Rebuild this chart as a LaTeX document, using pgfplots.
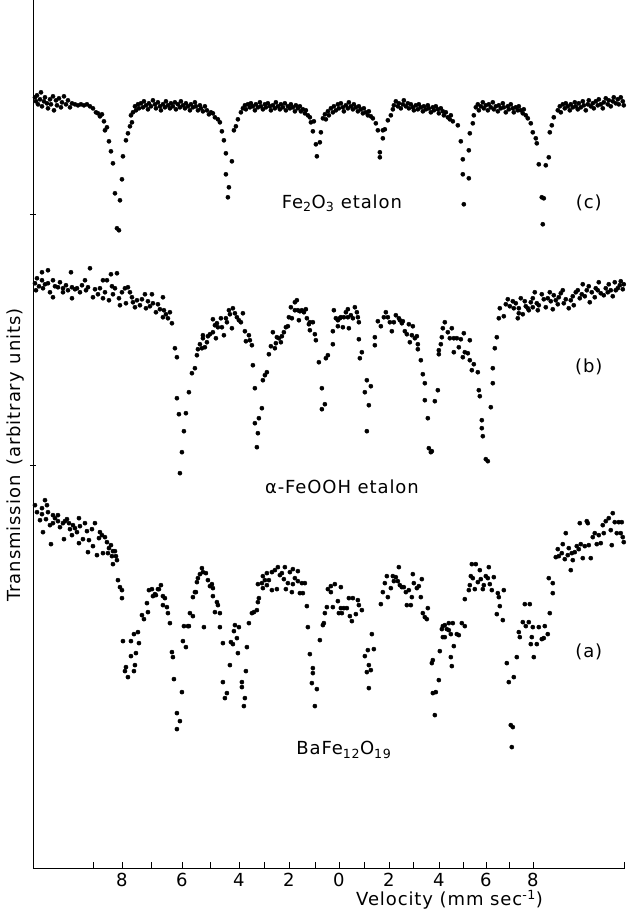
\documentclass[border=0pt]{standalone}
\usepackage{fontspec}
\setmainfont{DejaVu Sans}[LetterSpace=5]
\usepackage{pgfplots}
\pgfplotsset{compat=1.18}
\begin{document}
\begin{tikzpicture}
\begin{axis}[
  at={(0,0)}, anchor=south west,
  scale only axis, width=592bp, height=868bp,
  xmin=33, xmax=625, ymin=0, ymax=868, y dir=reverse,
  axis x line*=bottom, axis y line*=left,
  axis line style={-, line width=0.7pt},
  clip=false,
  xtick={93,122,151,182,210,239,264,289,315,339,364,389,413,439,463,486,509,533,625},
  xticklabels={,8,,6,,4,,2,,0,,2,,4,,6,,8,},
  xtick align=inside,
  ytick={214,465}, yticklabels={,}, ytick align=center,
  major tick length=6bp,
  tick style={black, line width=0.6pt},
  /pgf/number format/assume math mode=true,
  every tick label/.append style={font=\fontsize{18bp}{20bp}\selectfont},
  xticklabel style={anchor=north, yshift=-2bp},
  xlabel={Velocity (mm sec\textsuperscript{-1})},
  xlabel style={font=\fontsize{18bp}{20bp}\selectfont, at={(ticklabel cs:0.704)}, anchor=north, yshift=4bp},
  ylabel={Transmission\hspace{10bp}(arbitrary\hspace{8bp}units)},
  ylabel style={font=\fontsize{18bp}{20bp}\selectfont, at={(axis description cs:-0.03,0.476)}, anchor=center},
]
% (c) Fe2O3 etalon
\addplot[only marks, mark=*, mark size=2.1bp, black] coordinates {
(35,97)(36,101)(37,95)(38,104)(40,99)(41,92)(42,106)(44,101)(45,97)(47,103)(48,108)(50,99)(51,104)(53,96)(54,110)(56,100)(57,105)(59,98)(61,107)(62,102)(64,96)(66,104)(68,100)(70,107)(72,103)(75,104)(78,105)(81,104)(84,105)(87,104)(90,106)(93,108)(96,112)
(98,113)(100,116)(102,114)(104,121)(105,130)(107,127)(109,141)(111,151)(113,163)(115,193)(117,228)(119,230)(120,200)(122,179)(123,156)(126,140)(128,133)(130,126)(132,122)(131,115)
(133,112)(135,106)(136,110)(138,104)(139,108)(141,103)(143,107)(144,101)(146,105)(148,109)(149,103)(151,106)(153,100)(155,104)(156,108)(158,102)(160,106)(161,110)(163,104)(165,107)(166,101)(168,105)(170,108)(171,103)(173,106)(175,102)(176,109)(178,104)(180,107)(181,101)(183,105)(185,108)(186,103)(188,106)(190,110)(191,104)(193,107)(195,102)(196,106)(198,110)(200,105)(201,108)(203,111)(205,106)(207,110)(209,114)(211,112)
(213,113)(215,117)(218,119)(220,122)(222,131)(224,140)(226,153)(226,174)(228,197)(229,187)(232,161)(234,130)(236,126)(238,119)(241,112)
(243,108)(245,105)(246,109)(248,104)(250,107)(251,103)(253,106)(255,110)(256,104)(258,107)(260,102)(261,106)(263,109)(265,104)(266,107)(268,103)(270,106)(271,110)(273,105)(275,108)(276,102)(278,106)(280,109)(281,104)(283,107)(285,103)(286,110)(288,106)(290,108)(291,104)(293,107)(295,111)(296,105)(298,108)(300,106)(301,111)(303,109)(305,113)(306,110)(308,115)(310,117)(311,122)
(313,131)(314,121)(316,144)(317,156)(320,142)(321,132)(323,118)
(325,114)(326,119)(328,111)(329,115)(331,108)(333,112)(334,106)(336,110)(338,104)(339,108)(341,103)(343,107)(344,111)(346,105)(348,108)(349,102)(351,106)(353,109)(354,104)(356,107)(358,111)(359,106)(361,109)(363,113)(364,108)(366,112)(368,115)(369,111)(371,116)
(373,118)(376,123)(378,130)(380,152)(380,157)(383,130)(383,138)(385,129)(388,120)(391,115)
(393,109)(394,105)(396,101)(398,106)(399,103)(401,108)(403,104)(404,100)(406,106)(408,103)(409,108)(411,104)(413,107)(414,110)(416,105)(418,109)(419,104)(421,107)(423,111)(424,106)(426,109)(428,105)(429,108)(431,112)(433,107)(434,110)(436,106)(438,109)(439,113)(441,108)(443,111)(444,115)(446,112)(448,117)(450,119)(451,115)
(453,121)(458,125)(461,141)(463,159)(463,174)(464,204)(469,150)(469,178)(470,133)(473,123)(474,115)
(476,107)(478,104)(479,110)(481,106)(483,102)(484,108)(486,105)(488,110)(489,104)(491,107)(493,102)(494,109)(496,106)(498,111)(499,105)(501,108)(503,103)(504,107)(506,112)(508,106)(509,109)(511,104)(513,108)(514,112)(516,107)(518,110)(519,106)(521,110)(523,113)(524,109)(526,115)
(528,118)(531,123)(533,132)(536,138)(537,143)(539,164)(542,197)(543,224)(544,198)(546,165)(549,157)(550,132)(552,125)(554,117)
(558,110)(560,106)(561,112)(563,104)(565,108)(566,103)(568,106)(570,110)(571,104)(573,107)(575,102)(576,106)(578,109)(579,103)(581,107)(583,101)(584,105)(586,110)(588,104)(589,100)(591,106)(593,103)(594,108)(596,101)(598,105)(599,99)(601,104)(603,108)(604,102)(606,98)(608,104)(609,100)(611,106)(613,101)(614,97)(616,103)(618,99)(619,104)(621,97)(623,101)(624,105)
};
% (b) alpha-FeOOH etalon
\addplot[only marks, mark=*, mark size=2.1bp, black] coordinates {
(35,283)(36,290)(37,278)(39,286)(42,272)(42,280)(43,288)(45,284)(48,270)(48,283)(50,292)(53,280)(53,297)(55,286)(58,287)(60,282)(63,288)(63,292)(66,285)(68,290)(71,272)(72,287)(72,298)(75,289)(77,288)(80,292)(82,285)(85,280)(86,290)(88,287)(90,268)(93,297)(95,289)(98,294)(100,288)(103,280)(103,298)(105,292)(107,280)(109,300)(111,274)(112,286)(113,294)(115,288)(117,273)(119,298)(120,305)(122,292)(125,288)(126,303)(128,287)(130,292)(132,297)(133,302)(135,307)(137,300)(140,305)(142,299)(145,294)(146,308)(148,301)(150,306)(152,294)(153,303)(156,312)(158,304)(160,309)(163,297)(163,317)(164,310)(166,314)(168,318)(170,312)(172,323)
(175,348)(177,357)(177,398)(179,414)(180,473)(182,452)(184,431)(186,413)(189,392)(192,373)(195,368)(197,355)(198,349)(200,344)(202,348)(203,338)(203,335)(205,347)(207,342)(208,336)(210,334)(213,332)(213,319)(215,325)(216,338)(217,323)(218,327)(221,318)(222,327)(224,335)(226,318)(227,322)(229,310)(230,314)(232,328)(233,308)(235,313)(237,317)(239,320)(241,322)(243,313)(245,331)(246,341)(249,335)(250,340)(252,345)
(253,365)(255,388)(255,423)(257,447)(258,433)(259,418)(262,408)(263,380)(265,375)(267,372)(269,354)(271,346)(273,332)(275,348)(276,343)(277,337)(279,338)(281,342)(282,336)(284,332)(286,327)(288,326)(289,317)(291,307)(292,318)(295,302)(295,310)(297,300)(298,310)(299,320)(300,311)(302,310)(304,312)(306,309)(307,318)(309,324)(310,322)(310,330)(313,322)(315,334)(316,340)
(319,362)(322,388)(322,409)(325,404)(326,358)(328,355)
(333,344)(333,331)(334,310)(336,318)(338,326)(338,320)(340,318)(341,317)(343,327)(344,317)(346,312)(348,309)(348,317)(349,328)(351,315)(353,318)(355,307)(357,312)(358,317)(359,322)(359,339)(360,358)(362,352)
(365,392)(367,380)(367,431)(369,405)(371,386)
(375,345)(375,337)(378,321)(381,326)(384,317)(386,312)(388,317)(390,322)(392,331)(394,322)(396,315)(399,318)(400,320)(402,323)(403,321)(405,331)(407,334)(409,324)(410,342)(412,335)(413,326)(415,338)(417,336)(418,344)(418,349)(421,360)
(423,374)(425,383)(425,400)(428,418)(429,448)(431,452)(432,451)(435,401)(438,390)
(439,354)(439,350)(441,344)(442,337)(443,328)(445,322)(448,332)(450,338)(452,328)(454,352)(454,338)(457,338)(459,347)(461,339)(463,357)(464,333)(465,352)(468,353)(470,340)(470,360)(472,370)(474,364)(478,372)
(479,390)(480,396)(482,420)(482,428)(483,436)(486,459)(488,461)(491,407)(493,383)(493,368)(495,348)(497,337)
(499,318)(500,308)(504,316)(506,304)(508,299)(510,306)(513,301)(514,308)(516,303)(518,318)(519,313)(519,308)(521,298)(523,314)(525,301)(526,306)(528,308)(529,310)(531,302)(533,298)(533,307)(535,292)(537,303)(538,310)(539,305)(542,294)(544,299)(546,307)(548,298)(550,292)(551,301)(553,309)(554,295)(556,300)(558,304)(559,297)(561,293)(563,290)(564,303)(566,299)(569,308)(571,300)(573,296)(574,305)(576,292)(578,290)(580,298)(582,294)(583,284)(585,296)(587,290)(589,286)(590,302)(592,292)(595,297)(596,288)(598,290)(599,282)(601,293)(604,295)(606,288)(608,292)(609,284)(611,290)(613,296)(615,282)(616,290)(618,288)(620,285)(621,281)(623,289)(624,284)
};
% (a) BaFe12O19
\addplot[only marks, mark=*, mark size=2.1bp, black] coordinates {
(35,505)(37,512)(40,520)(42,508)(42,514)(43,532)(45,500)(46,519)(47,505)(48,512)(50,525)(51,544)(53,515)(53,523)(55,518)(58,515)(58,521)(60,527)(63,523)(64,539)(65,521)(67,519)(69,523)(70,529)(72,535)(73,525)(75,528)(77,532)(79,518)(79,543)(80,526)(83,539)(85,523)(87,531)(88,552)(89,540)(92,529)(93,546)(95,523)(97,555)(99,538)(100,532)(102,535)(103,553)(105,537)(107,542)(108,553)(109,548)(111,545)(112,556)(113,551)(113,564)(115,551)(116,556)(117,560)
(118,580)(120,587)(122,590)(122,598)(123,641)(125,671)(126,667)(128,677)(131,641)(131,656)(134,634)(134,671)(135,665)(136,653)(138,632)(139,643)(142,615)(144,619)(147,603)(148,612)(149,590)(152,589)(153,596)(155,594)(156,595)(158,589)(159,589)(161,585)(163,596)(163,605)(165,598)(167,607)(168,613)(170,623)
(172,652)(173,657)(174,679)(177,713)(177,729)(180,721)(182,692)(183,641)(184,626)(186,647)(188,626)(189,626)(190,613)(193,616)(193,597)(195,592)(196,592)(197,582)(198,578)(200,574)(202,568)(203,572)(204,627)(206,573)(208,580)(210,586)(212,584)(213,588)(213,596)(215,612)(217,602)(218,605)(220,613)(220,627)
(223,643)(223,682)(225,698)(227,693)(230,665)(231,642)(233,644)(234,631)(235,625)(237,638)(238,653)(239,627)(242,682)(242,687)(244,706)(245,698)(246,671)(247,647)(249,623)
(252,613)(254,612)(257,610)(258,602)(259,598)(258,584)(262,583)(263,576)(263,588)(265,580)(267,573)(267,585)(269,580)(272,590)(272,572)(275,570)(277,589)(278,567)(280,575)(282,573)(284,579)(285,567)(286,589)(288,583)(290,572)(292,592)(293,569)(293,584)(295,578)(298,581)(298,571)(300,593)(302,583)(303,593)(305,583)
(307,606)(308,627)(310,654)(313,668)(313,673)(312,683)(315,706)(317,689)(320,640)(323,625)(324,623)(325,613)(327,607)(328,589)
(331,586)(331,592)(333,607)(335,584)(338,601)(339,613)(341,587)(341,608)(342,613)(344,608)(347,608)(349,598)(350,616)(352,621)(353,598)(356,614)(358,600)(359,605)(362,610)
(365,656)(367,672)(368,650)(369,665)(369,688)(371,670)(372,634)(374,649)
(381,604)(383,592)(385,583)(387,576)(388,597)(391,588)(393,576)(394,581)(396,577)(398,581)(399,567)(400,585)(402,587)(404,587)(406,592)(407,605)(409,590)(411,605)(412,597)(413,574)(414,583)(417,588)(419,586)(421,597)(422,579)(423,613)(425,617)(427,619)(428,608)
(432,663)(433,660)(433,693)(435,715)(436,692)(439,680)(440,651)(442,629)(443,626)(443,637)(445,625)(445,637)(447,629)(449,623)(449,630)(451,634)(451,657)(452,666)(453,623)(454,646)(457,634)(459,635)(462,623)(465,626)
(465,599)(469,590)(470,585)(471,576)(472,564)(473,578)(475,589)(476,564)(478,582)(480,570)(481,579)(483,589)(484,585)(486,576)(488,578)(489,567)(490,584)(492,590)(494,577)(497,614)(498,593)(499,597)(500,606)(503,620)(504,590)
(507,663)(509,682)(511,725)(512,747)(513,727)(514,677)(517,657)(519,632)(520,637)(523,622)(525,604)(526,626)(529,622)(530,604)(531,644)(532,637)(533,627)(534,657)(537,644)(539,627)(542,639)(544,638)(545,626)(548,634)(549,578)(550,613)(553,583)(553,593)
(556,557)(558,549)(559,556)(562,553)(563,544)(565,559)(566,533)(568,555)(569,548)(571,570)(572,553)(573,560)(575,552)(577,546)(579,549)(580,523)(581,544)(583,558)(585,546)(587,521)(588,523)(589,545)(591,558)(593,537)(595,533)(597,544)(599,535)(601,543)(603,525)(604,533)(606,521)(609,518)(611,530)(612,545)(613,513)(615,522)(617,533)(619,522)(621,533)(622,522)(623,537)(624,542)
};
\node[font=\fontsize{18bp}{20bp}\selectfont] at (axis cs:342,203) {Fe\textsubscript{2}O\textsubscript{3} etalon};
\node[font=\fontsize{18bp}{20bp}\selectfont] at (axis cs:589,203) {(c)};
\node[font=\fontsize{18bp}{20bp}\selectfont] at (axis cs:589,367) {(b)};
\node[font=\fontsize{18bp}{20bp}\selectfont] at (axis cs:342,487) {α-FeOOH etalon};
\node[font=\fontsize{18bp}{20bp}\selectfont] at (axis cs:589,652) {(a)};
\node[font=\fontsize{18bp}{20bp}\selectfont] at (axis cs:344,750) {BaFe\textsubscript{12}O\textsubscript{19}};
\end{axis}
\path[use as bounding box] (-33bp,-52bp) rectangle (593bp,868bp);
\end{tikzpicture}
\end{document}
